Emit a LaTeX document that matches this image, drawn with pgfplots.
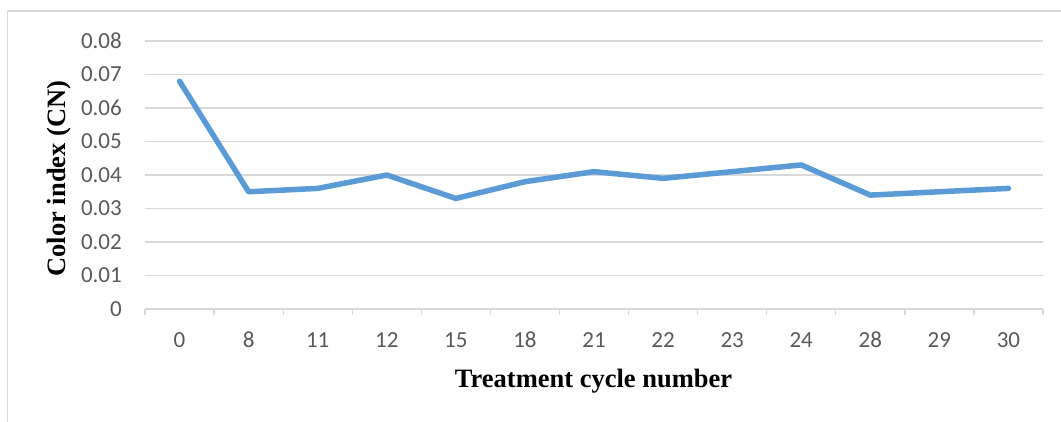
\documentclass[border=0pt]{standalone}
\usepackage{pgfplots}
\pgfplotsset{compat=1.18}
\usepackage{fontspec}
\setmainfont{Liberation Serif}
\newfontfamily\carlito{Carlito}
\definecolor{gridc}{HTML}{D9D9D9}
\definecolor{linec}{HTML}{5B9BD5}
\definecolor{tickc}{HTML}{595959}
\begin{document}
\begin{tikzpicture}[x=1pt,y=1pt]
\useasboundingbox (0,0) rectangle (1061,421);
\clip (0,0) rectangle (1061,421);
\draw[gridc, line width=1.3pt] (7.5,-20) -- (7.5,410) -- (1100,410);
\begin{axis}[
  at={(145pt,112pt)}, anchor=south west,
  width=898pt, height=268pt, scale only axis,
  xmin=-0.5, xmax=12.5, ymin=0, ymax=0.08,
  axis line style={draw=none},
  xtick={0,...,12},
  xticklabels={0,8,11,12,15,18,21,22,23,24,28,29,30},
  ytick={0,0.01,...,0.08},
  yticklabels={0,0.01,0.02,0.03,0.04,0.05,0.06,0.07,0.08},
  scaled y ticks=false,
  xtick pos=bottom, ytick pos=left,
  major tick length=0pt,
  tick align=outside,
  ymajorgrids,
  major grid style={gridc, line width=1.3pt},
  extra x ticks={-0.5,0.5,...,12.5},
  extra x tick labels={},
  extra x tick style={major tick length=6pt, tick style={gridc, line width=1.3pt}, xmajorgrids=false},
  /pgf/number format/assume math mode=true,
  ticklabel style={font=\carlito\fontsize{23}{23}\selectfont, text=tickc},
  xticklabel style={anchor=base, yshift=-38pt, inner sep=0pt},
  yticklabel style={anchor=east, xshift=-23pt, inner sep=0pt},
  clip=false,
]
\addplot[linec, line width=5.5pt, line join=round, line cap=round] coordinates {
(0,0.068) (1,0.035) (2,0.036) (3,0.040) (4,0.033) (5,0.038) (6,0.041)
(7,0.039) (8,0.041) (9,0.043) (10,0.034) (11,0.035) (12,0.036)
};
\end{axis}
\node[anchor=base, inner sep=0pt, font=\bfseries\fontsize{26.5}{26.5}\selectfont] at (593.5,34) {Treatment cycle number};
\node[anchor=base, inner sep=0pt, rotate=90, font=\bfseries\fontsize{26.5}{26.5}\selectfont] at (65.5,242.5) {Color index (CN)};
\end{tikzpicture}
\end{document}
